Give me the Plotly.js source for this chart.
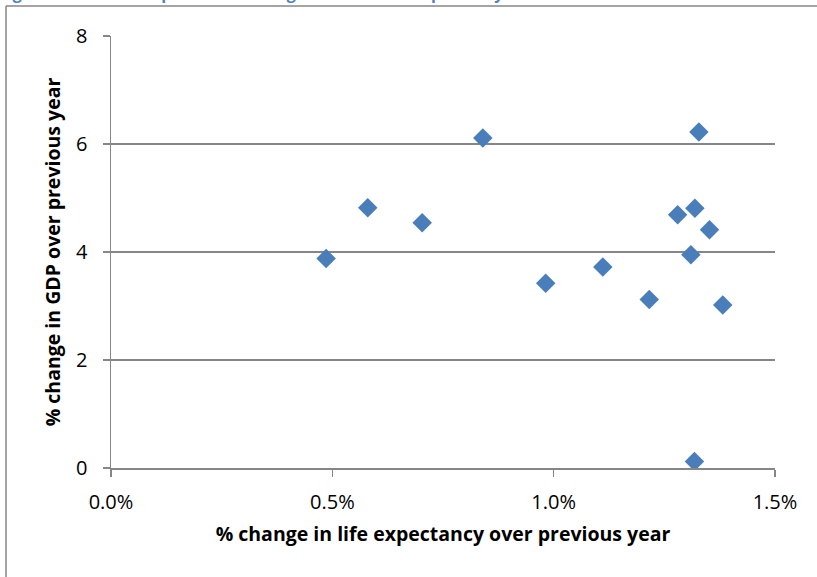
<!DOCTYPE html>
<html>
<head>
<meta charset="utf-8">
<script src="https://cdn.plot.ly/plotly-3.0.1.min.js"></script>
<style>
html,body{margin:0;padding:0;background:#fff;}
#chart{width:817px;height:577px;}
</style>
</head>
<body>
<div id="chart"></div>
<script>
// % change in life expectancy over previous year (as fractions)
const lifeExpChange = [0.00486, 0.00580, 0.00703, 0.00840, 0.01328, 0.01280, 0.01319, 0.01352, 0.01310, 0.00982, 0.01111, 0.01216, 0.01382, 0.01318];
// % change in GDP over previous year
const gdpChange = [3.88, 4.82, 4.54, 6.11, 6.22, 4.69, 4.81, 4.41, 3.95, 3.42, 3.72, 3.12, 3.02, 0.12];
const xTickVals = [0, 0.005, 0.01, 0.015];
const yTickVals = [0, 2, 4, 6, 8];
const chartTitle = "Figure 1: Relationship between GDP growth and life expectancy";
const xTitle = "% change in life expectancy over previous year";
const yTitle = "% change in GDP over previous year";

const font = "'Open Sans', 'Noto Sans', sans-serif";
const gray = "#868686";

const trace = {
  type: "scatter",
  mode: "markers",
  x: lifeExpChange,
  y: gdpChange,
  marker: {symbol: "diamond", size: 15, color: "#4a7ebb", line: {width: 0}},
  hoverinfo: "x+y"
};

const layout = {
  width: 817, height: 577,
  margin: {l: 111, r: 42, t: 36, b: 109},
  paper_bgcolor: "#fff", plot_bgcolor: "#fff",
  font: {family: font, size: 20, color: "#000"},
  showlegend: false,
  xaxis: {
    range: [0, 0.015], tickvals: xTickVals, tickformat: ".1%",
    showgrid: false, zeroline: false, showline: true, linecolor: gray, linewidth: 1.5,
    ticks: "outside", ticklen: 7, tickcolor: gray, tickwidth: 1.5,
    tickfont: {size: 20, family: font}, ticklabelstandoff: 8, automargin: false,
    title: {text: xTitle, font: {size: 19.5, family: font, weight: "bold"}, standoff: 14}
  },
  yaxis: {
    range: [0, 8], tickvals: yTickVals,
    showgrid: true, gridcolor: gray, gridwidth: 1.5, zeroline: false,
    showline: true, linecolor: gray, linewidth: 1.5,
    ticks: "outside", ticklen: 7, tickcolor: gray, tickwidth: 1.5,
    tickfont: {size: 20, family: font}, ticklabelstandoff: 11, automargin: false,
    title: {text: yTitle, font: {size: 19.5, family: font, weight: "bold"}, standoff: 10}
  },
  shapes: [
    {type: "line", xref: "paper", yref: "paper", x0: -0.1581, x1: 1.1, y0: 1.0694, y1: 1.0694, line: {color: gray, width: 1.5}},
    {type: "line", xref: "paper", yref: "paper", x0: -0.1581, x1: -0.1581, y0: 1.0694, y1: -0.3, line: {color: gray, width: 1.5}}
  ],
  annotations: [
    {text: "<b>" + chartTitle + "</b>", xref: "paper", yref: "paper", x: -0.172, y: 1.0705,
     xanchor: "left", yanchor: "bottom", showarrow: false,
     font: {family: font, size: 16, color: "#4f81bd"}}
  ]
};

Plotly.newPlot("chart", [trace], layout, {displayModeBar: false, staticPlot: true});
</script>
</body>
</html>
